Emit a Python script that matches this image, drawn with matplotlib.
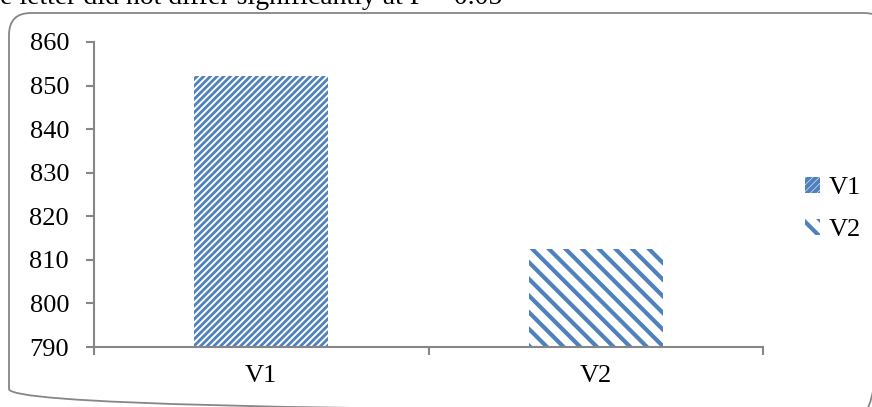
import matplotlib
matplotlib.use('Agg')
import matplotlib.pyplot as plt
from matplotlib.patches import FancyBboxPatch

# Chart data
categories = ['V1', 'V2']
values = [852.2, 812.6]
hatches = ['/////', '\\\\']
hatch_widths = [2.0, 3.0]
y_ticks = [790, 800, 810, 820, 830, 840, 850, 860]

bar_color = '#4F81BD'
axis_gray = '#868686'
W, H = 872, 407

plt.rcParams['font.family'] = ['Liberation Serif', 'DejaVu Serif']

fig = plt.figure(figsize=(W / 100, H / 100), dpi=100)

# Overlay in pixel units for the rounded frame and caption
bg = fig.add_axes([0, 0, 1, 1], zorder=-1)
bg.set_xlim(0, W)
bg.set_ylim(H, 0)
bg.axis('off')
frame = FancyBboxPatch((9, 13), 877, 398,
                       boxstyle='round,pad=0,rounding_size=22',
                       facecolor='none', edgecolor=axis_gray, linewidth=1.3,
                       clip_on=False)
bg.add_patch(frame)
bg.text(0, 4.5, 'e letter did not differ significantly at P = 0.05',
        fontsize=20, ha='left', va='baseline', color='black')

ax = fig.add_axes([94 / W, 1 - 347 / H, (763 - 94) / W, (347 - 42) / H])
ax.patch.set_alpha(0)

bars = []
for i, (cat, val) in enumerate(zip(categories, values)):
    plt.rcParams['hatch.linewidth'] = hatch_widths[i]
    b = ax.bar(i, val - y_ticks[0], bottom=y_ticks[0], width=0.4,
               facecolor='white', edgecolor=bar_color, linewidth=0,
               hatch=hatches[i])
    bars.append(b[0])

ax.set_xlim(-0.5, 1.5)
ax.set_ylim(y_ticks[0], y_ticks[-1])
ax.set_yticks(y_ticks)

# category labels without ticks; ticks sit on category boundaries
ax.set_xticks([0, 1])
ax.set_xticklabels(categories, fontsize=19)
ax.tick_params(axis='x', length=0, pad=13)
ax.set_xticks([-0.5, 0.5, 1.5], minor=True)
ax.tick_params(axis='x', which='minor', length=6, width=1.5, color=axis_gray,
               direction='out')
ax.tick_params(axis='y', length=6, width=1.5, color=axis_gray, direction='out',
               labelsize=19, pad=12)

for s in ['top', 'right']:
    ax.spines[s].set_visible(False)
for s in ['left', 'bottom']:
    ax.spines[s].set_color(axis_gray)
    ax.spines[s].set_linewidth(1.5)

ax.legend(bars, categories, loc='center left',
          bbox_to_anchor=(805 / W, 1 - 209 / H), bbox_transform=fig.transFigure,
          frameon=False, fontsize=19, handlelength=0.55, handleheight=0.55,
          handletextpad=0.35, labelspacing=0.75, borderpad=0, borderaxespad=0)

fig.savefig('out.png', dpi=100, facecolor='white')
